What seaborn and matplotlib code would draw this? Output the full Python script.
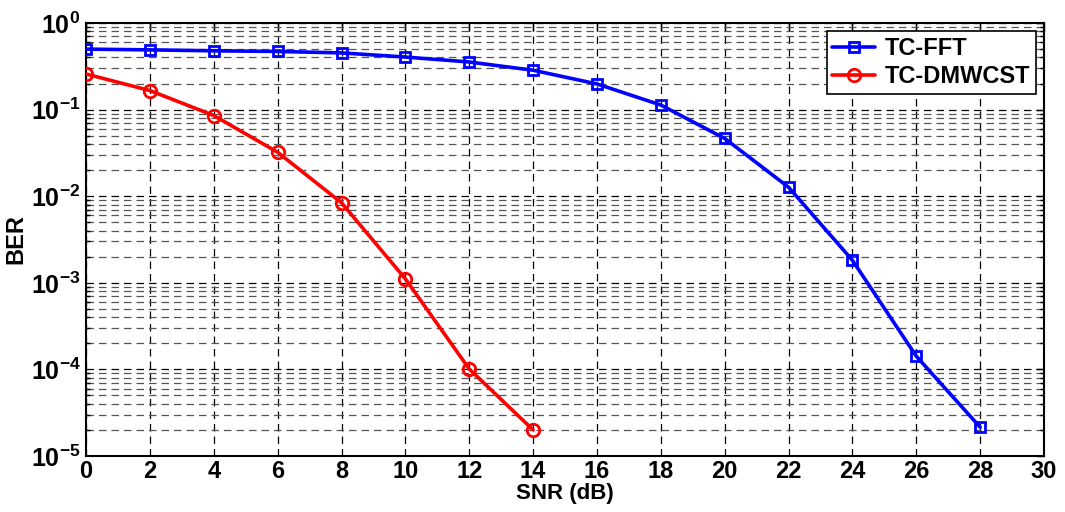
import numpy as np
import pandas as pd
import seaborn as sns
import matplotlib
matplotlib.use("Agg")
import matplotlib.pyplot as plt
from matplotlib.ticker import LogLocator, FixedLocator, NullFormatter

snr_fft = [0, 2, 4, 6, 8, 10, 12, 14, 16, 18, 20, 22, 24, 26, 28]
ber_fft = [0.50, 0.49, 0.478, 0.47, 0.452, 0.405, 0.355, 0.285, 0.198, 0.113,
           0.0465, 0.0127, 0.00182, 1.42e-4, 2.15e-5]
snr_dmw = [0, 2, 4, 6, 8, 10, 12, 14]
ber_dmw = [0.258, 0.166, 0.0855, 0.0322, 0.0084, 0.00111, 1.01e-4, 2.0e-5]
series_names = ["TC-FFT", "TC-DMWCST"]
x_ticks = list(range(0, 31, 2))
y_exps = [0, -1, -2, -3, -4, -5]

sns.set_style("white")
plt.rcParams['font.family'] = ['Liberation Sans', 'DejaVu Sans']
plt.rcParams['font.weight'] = 'bold'
plt.rcParams['text.color'] = 'black'
plt.rcParams['axes.labelcolor'] = 'black'
plt.rcParams['xtick.color'] = 'black'
plt.rcParams['ytick.color'] = 'black'
plt.rcParams['axes.unicode_minus'] = False
plt.rcParams['mathtext.fontset'] = 'custom'
plt.rcParams['mathtext.rm'] = 'Liberation Sans:bold'
plt.rcParams['mathtext.bf'] = 'Liberation Sans:bold'
plt.rcParams['mathtext.it'] = 'Liberation Sans:bold'
plt.rcParams['mathtext.default'] = 'bf'

fig = plt.figure(figsize=(10.65, 5.12), dpi=100)
ax = fig.add_axes([0.0808, 0.1094, 0.8995, 0.8456])

df_fft = pd.DataFrame({"SNR": snr_fft, "BER": ber_fft})
df_dmw = pd.DataFrame({"SNR": snr_dmw, "BER": ber_dmw})

sns.lineplot(data=df_fft, x="SNR", y="BER", ax=ax, color="#0000ff", marker="s",
             markersize=7, markerfacecolor="none", markeredgecolor="#0000ff",
             markeredgewidth=2, linewidth=2.6, label=series_names[0], zorder=5)
sns.lineplot(data=df_dmw, x="SNR", y="BER", ax=ax, color="#ff0000", marker="o",
             markersize=9, markerfacecolor="none", markeredgecolor="#ff0000",
             markeredgewidth=2, linewidth=2.6, label=series_names[1], zorder=5)

ax.set_yscale("log")
ax.set_xlim(0, 30)
ax.set_ylim(1e-5, 1)
ax.xaxis.set_major_locator(FixedLocator(x_ticks))
ax.set_xticklabels([str(t) for t in x_ticks])
ax.yaxis.set_major_locator(FixedLocator([10.0 ** e for e in y_exps]))
ax.set_yticklabels([r"$10^{%d}$" % e for e in y_exps])
ax.yaxis.set_minor_locator(LogLocator(base=10, subs=np.arange(2, 10), numticks=50))
ax.yaxis.set_minor_formatter(NullFormatter())

ax.tick_params(axis="both", which="major", direction="in", length=6, width=1,
               top=True, right=True)
ax.tick_params(axis="x", which="major", labelsize=17, pad=3)
ax.tick_params(axis="y", which="major", labelsize=18, pad=4)
ax.tick_params(axis="y", which="minor", direction="in", length=3, width=1,
               right=True, left=True)
for lab in ax.get_xticklabels() + ax.get_yticklabels():
    lab.set_fontweight("bold")

ax.grid(True, which="major", axis="both", color="black", linestyle=(0, (6, 4)),
        linewidth=0.9)
ax.grid(True, which="minor", axis="y", color="#555555", linestyle=(0, (6, 4)),
        linewidth=0.9)

for s in ax.spines.values():
    s.set_color("black")
    s.set_linewidth(1.5)

ax.set_xlabel("SNR (dB)", fontsize=16, fontweight="bold", labelpad=0)
ax.set_ylabel("BER", fontsize=17, fontweight="bold", labelpad=2)

leg = ax.legend(loc="upper right", fontsize=17, frameon=True, fancybox=False,
                edgecolor="black", framealpha=1, borderaxespad=0.35,
                handlelength=1.8, handletextpad=0.4, borderpad=0.25,
                labelspacing=0.2)
leg.get_frame().set_linewidth(1.2)
for t in leg.get_texts():
    t.set_fontweight("bold")

fig.savefig("out.png", dpi=100)
